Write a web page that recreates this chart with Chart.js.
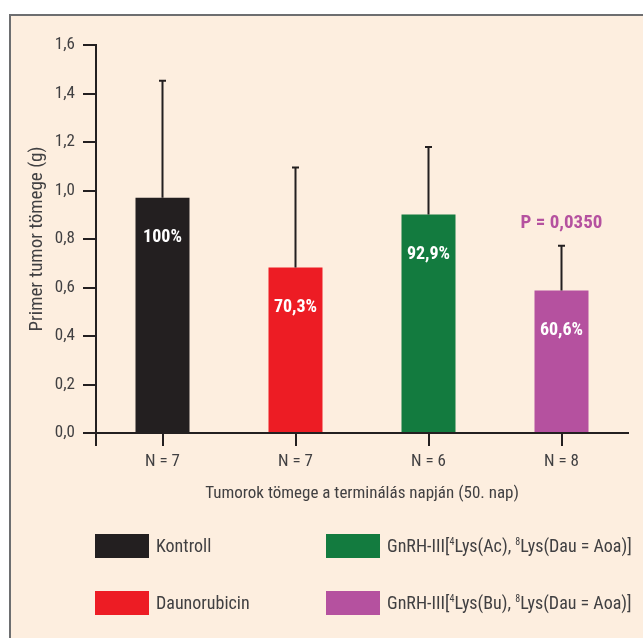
<!DOCTYPE html>
<html>
<head>
<meta charset="utf-8">
<script src="https://cdn.jsdelivr.net/npm/chart.js@4.4.1/dist/chart.umd.min.js"></script>
<style>
  html, body { margin: 0; padding: 0; background: #ffffff; }
  body { width: 643px; height: 638px; overflow: hidden; position: relative;
         font-family: "Roboto Condensed", "DejaVu Sans Condensed", sans-serif; color: #414042; }
  #panel { position: absolute; left: 9px; top: 14px; width: 700px; height: 700px;
           background: #fdeedf; border: 2px solid #6d6e70; box-sizing: border-box; }
  #chartBox { position: absolute; left: 0; top: 0; width: 643px; height: 638px; }
  .swatch { position: absolute; width: 54px; height: 24px; }
  .legText { position: absolute; font-size: 18px; line-height: 24px; white-space: nowrap; color: #414042; }
  .legText sup { font-size: 10px; vertical-align: 0; position: relative; top: -7px; }
</style>
</head>
<body>
<div id="panel"></div>
<div id="chartBox"><canvas id="c" width="643" height="638"></canvas></div>
<div id="legend"></div>
<script>
// Treatment groups, animals per group and tumour mass on day 50
const groupNames = [
  'Kontroll',
  'Daunorubicin',
  'GnRH-III[<sup>4</sup>Lys(Ac), <sup>8</sup>Lys(Dau = Aoa)]',
  'GnRH-III[<sup>4</sup>Lys(Bu), <sup>8</sup>Lys(Dau = Aoa)]'
];
const groupSizes = ['N = 7', 'N = 7', 'N = 6', 'N = 8'];
const meanMass = [0.97, 0.682, 0.901, 0.588];      // g
const sdMass = [0.483, 0.413, 0.278, 0.184];       // g
const relativeLabels = ['100%', '70,3%', '92,9%', '60,6%'];
const pValueLabels = ['', '', '', 'P = 0,0350'];
const groupColors = ['#231f20', '#ed1c24', '#137b3f', '#b5519f'];
const yTickValues = [0, 0.2, 0.4, 0.6, 0.8, 1.0, 1.2, 1.4, 1.6];

const FONT = '"Roboto Condensed", "DejaVu Sans Condensed", sans-serif';
const TEXT = '#414042';
const INK = '#231f20';

// Error bars, percentage labels and the significance note
const annotations = {
  id: 'annotations',
  afterDatasetsDraw(chart) {
    const ctx = chart.ctx;
    const y = chart.scales.y;
    const area = chart.chartArea;
    const bars = chart.getDatasetMeta(0).data;
    ctx.save();

    // y axis continues a little below the baseline
    ctx.strokeStyle = INK;
    ctx.lineWidth = 2;
    ctx.beginPath();
    ctx.moveTo(area.left, area.bottom);
    ctx.lineTo(area.left, area.bottom + 13);
    ctx.stroke();

    bars.forEach((bar, i) => {
      const top = y.getPixelForValue(meanMass[i] + sdMass[i]);
      ctx.strokeStyle = INK;
      ctx.lineWidth = 2;
      ctx.beginPath();
      ctx.moveTo(bar.x, bar.y);
      ctx.lineTo(bar.x, top);
      ctx.moveTo(bar.x - 3.5, top);
      ctx.lineTo(bar.x + 3.5, top);
      ctx.stroke();

      ctx.fillStyle = '#ffffff';
      ctx.font = 'bold 18px ' + FONT;
      ctx.textAlign = 'center';
      ctx.textBaseline = 'middle';
      ctx.fillText(relativeLabels[i], bar.x, bar.y + 40);

      if (pValueLabels[i]) {
        ctx.fillStyle = groupColors[i];
        ctx.font = 'bold 19px ' + FONT;
        ctx.fillText(pValueLabels[i], bar.x, top - 23);
      }
    });
    ctx.restore();
  }
};

new Chart(document.getElementById('c'), {
  type: 'bar',
  data: {
    labels: groupSizes,
    datasets: [{
      data: meanMass,
      backgroundColor: groupColors,
      borderWidth: 0,
      barPercentage: 0.406,
      categoryPercentage: 1.0
    }]
  },
  options: {
    responsive: false,
    animation: false,
    events: [],
    layout: { padding: { left: 0, right: 15, top: 45, bottom: 130 } },
    plugins: { legend: { display: false }, tooltip: { enabled: false } },
    scales: {
      x: {
        offset: true,
        grid: { offset: false, drawOnChartArea: false, drawTicks: true, tickLength: 13,
                tickColor: INK, lineWidth: 2 },
        border: { display: true, color: INK, width: 2 },
        ticks: { color: TEXT, padding: 6, font: { family: FONT, size: 17 } },
        title: { display: true, text: 'Tumorok tömege a terminálás napján (50. nap)',
                 color: TEXT, font: { family: FONT, size: 17 }, padding: { top: 0, bottom: 4 } },
        afterFit(scale) { scale.height = 75; }
      },
      y: {
        min: 0,
        max: 1.6,
        afterBuildTicks(scale) { scale.ticks = yTickValues.map(v => ({ value: v })); },
        grid: { drawOnChartArea: false, drawTicks: true, tickLength: 13, tickColor: INK, lineWidth: 2 },
        border: { display: true, color: INK, width: 2 },
        ticks: {
          color: TEXT, padding: 8, font: { family: FONT, size: 17 },
          callback: v => Number(v).toFixed(1).replace('.', ',')
        },
        title: { display: true, text: 'Primer tumor tömege (g)', color: TEXT,
                 font: { family: FONT, size: 19 }, padding: { top: 26, bottom: 0 } },
        afterFit(scale) { scale.width = 96; }
      }
    }
  },
  plugins: [annotations]
});

// Two-column legend below the plot
const legend = document.getElementById('legend');
groupNames.forEach((name, i) => {
  const col = Math.floor(i / 2), row = i % 2;
  const left = col === 0 ? 95 : 326;
  const top = row === 0 ? 534 : 591;
  const sw = document.createElement('div');
  sw.className = 'swatch';
  sw.style.left = left + 'px';
  sw.style.top = top + 'px';
  sw.style.background = groupColors[i];
  legend.appendChild(sw);
  const tx = document.createElement('div');
  tx.className = 'legText';
  tx.style.left = (left + 61) + 'px';
  tx.style.top = top + 'px';
  tx.innerHTML = name;
  legend.appendChild(tx);
});
</script>
</body>
</html>
